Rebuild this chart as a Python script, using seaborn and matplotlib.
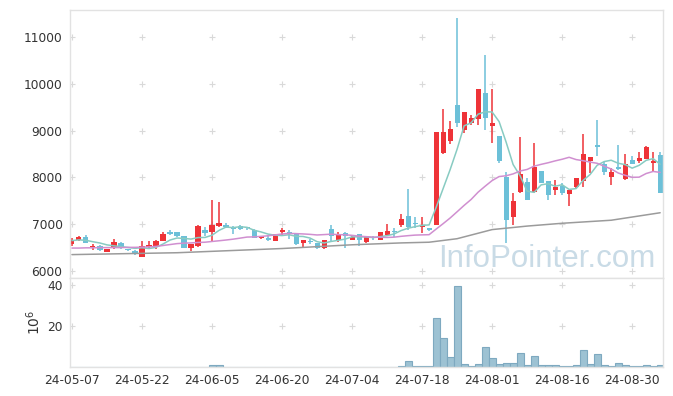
import matplotlib
matplotlib.use('Agg')
import matplotlib.pyplot as plt
import seaborn as sns
import pandas as pd
import numpy as np

# trading days (KRX holidays removed)
holidays = ['2024-05-15', '2024-06-06', '2024-08-15']
dates = pd.bdate_range('2024-05-07', '2024-09-05')
dates = dates[~dates.isin(pd.to_datetime(holidays))]

open_ = [6575, 6660, 6730, 6505, 6540, 6410, 6490, 6590, 6455, 6420,
         6305, 6520, 6505, 6645, 6825, 6825, 6740, 6495, 6540, 6870,
         6825, 6960, 6985, 6950, 6965, 6925, 6885, 6695, 6715, 6645,
         6830, 6815, 6805, 6600, 6645, 6595, 6485, 6905, 6670, 6810,
         6670, 6795, 6610, 6710, 6670, 6775, 6845, 6985, 7175, 7030,
         6935, 6895, 6980, 8530, 8785, 9550, 9015, 9160, 9260, 9805,
         9110, 8885, 8010, 7160, 7695, 7900, 7695, 8140, 7925, 7730,
         7815, 7645, 7785, 7930, 8350, 8695, 8285, 8015, 8215, 7965,
         8375, 8350, 8395, 8315, 8480]
high = [6700, 6745, 6775, 6575, 6550, 6475, 6675, 6610, 6475, 6440,
        6645, 6645, 6660, 6830, 6870, 6830, 6745, 6580, 6980, 6930,
        7510, 7480, 7035, 6970, 6990, 6950, 6890, 6755, 6760, 6790,
        6920, 6880, 6810, 6660, 6690, 6600, 6665, 6990, 6830, 6830,
        6740, 6800, 6745, 6740, 6840, 7010, 6910, 7215, 7745, 7160,
        7145, 6910, 8965, 9455, 9215, 11405, 9400, 9330, 9895, 10620,
        9885, 8890, 8125, 7675, 8870, 7980, 8730, 8145, 7930, 7945,
        7875, 7740, 7990, 8930, 8440, 9230, 8335, 8210, 8695, 8500,
        8460, 8550, 8680, 8535, 8535]
low = [6540, 6650, 6590, 6450, 6420, 6400, 6470, 6480, 6420, 6340,
       6300, 6500, 6480, 6640, 6770, 6730, 6490, 6430, 6520, 6750,
       6645, 6940, 6920, 6800, 6880, 6880, 6700, 6680, 6650, 6640,
       6760, 6680, 6560, 6490, 6580, 6480, 6480, 6630, 6610, 6490,
       6660, 6540, 6600, 6660, 6660, 6760, 6730, 6945, 6875, 6910,
       6820, 6860, 6980, 8500, 8715, 9085, 8960, 9120, 9120, 9015,
       8730, 8300, 6590, 6980, 7660, 7515, 7675, 7885, 7520, 7625,
       7625, 7390, 7770, 7790, 8085, 8460, 8050, 7840, 8160, 7945,
       8285, 8300, 8395, 8145, 7675]
close = [6660, 6730, 6605, 6540, 6455, 6460, 6630, 6520, 6445, 6365,
         6525, 6545, 6645, 6800, 6790, 6745, 6500, 6575, 6960, 6805,
         6980, 7020, 6930, 6900, 6900, 6915, 6715, 6745, 6670, 6780,
         6875, 6805, 6575, 6655, 6610, 6490, 6660, 6740, 6775, 6740,
         6735, 6655, 6740, 6700, 6835, 6845, 6835, 7105, 6950, 7005,
         6980, 6885, 8965, 8965, 9030, 9170, 9390, 9280, 9895, 9280,
         9155, 8360, 7090, 7495, 8075, 7515, 8230, 7890, 7625, 7800,
         7675, 7730, 7980, 8500, 8430, 8660, 8125, 8125, 8180, 8280,
         8285, 8425, 8660, 8360, 7675]
# volume, millions of shares
volume = [0.15, 0.15, 0.15, 0.15, 0.15, 0.15, 0.15, 0.15, 0.15, 0.15,
          0.15, 0.15, 0.15, 0.15, 0.15, 0.15, 0.15, 0.15, 0.15, 0.15,
          1.0, 1.0, 0.15, 0.15, 0.15, 0.15, 0.15, 0.15, 0.15, 0.15,
          0.15, 0.15, 0.15, 0.15, 0.15, 0.15, 0.15, 0.15, 0.15, 0.15,
          0.15, 0.15, 0.15, 0.15, 0.15, 0.15, 0.15, 0.6, 3.0, 0.6,
          0.6, 0.3, 23.9, 14.1, 4.9, 39.5, 1.6, 0.6, 1.6, 9.9,
          4.5, 1.6, 2.1, 2.1, 7.0, 1.1, 5.3, 1.0, 1.0, 1.0,
          0.5, 0.5, 1.0, 8.2, 1.5, 6.3, 1.0, 0.5, 2.0, 1.0,
          0.5, 0.5, 1.0, 0.5, 1.0]
ma5 = [6650, 6665, 6655, 6625, 6598, 6558, 6538, 6521, 6502, 6484,
       6497, 6480, 6505, 6576, 6661, 6705, 6696, 6682, 6714, 6717,
       6764, 6868, 6939, 6927, 6946, 6933, 6872, 6835, 6789, 6765,
       6757, 6775, 6741, 6738, 6704, 6627, 6598, 6631, 6655, 6681,
       6730, 6729, 6729, 6714, 6733, 6755, 6791, 6864, 6914, 6948,
       6975, 6985, 7357, 7760, 8165, 8603, 9104, 9167, 9353, 9403,
       9400, 9194, 8756, 8276, 8035, 7707, 7681, 7841, 7867, 7812,
       7844, 7744, 7762, 7937, 8063, 8260, 8339, 8368, 8304, 8274,
       8199, 8259, 8366, 8402, 8281]
ma20 = [6490, 6490, 6495, 6495, 6500, 6500, 6500, 6500, 6505, 6505,
        6510, 6515, 6525, 6545, 6565, 6585, 6595, 6600, 6610, 6615,
        6631, 6646, 6662, 6680, 6702, 6725, 6729, 6740, 6752, 6772,
        6790, 6803, 6799, 6792, 6783, 6770, 6778, 6787, 6777, 6774,
        6762, 6744, 6734, 6724, 6721, 6717, 6723, 6741, 6755, 6767,
        6772, 6776, 6895, 7011, 7132, 7266, 7402, 7529, 7685, 7812,
        7933, 8019, 8036, 8076, 8138, 8171, 8241, 8280, 8314, 8354,
        8389, 8431, 8382, 8358, 8328, 8303, 8240, 8182, 8096, 8046,
        8003, 8006, 8084, 8128, 8108]
# long moving average read at a few trading days
ma_long_pos = [0, 15, 30, 40, 47, 51, 55, 60, 65, 70, 77, 84]
ma_long = [6350, 6390, 6480, 6560, 6600, 6615, 6690, 6885, 6960, 7020, 7085, 7245]

price_ticks = [6000, 7000, 8000, 9000, 10000, 11000]
vol_ticks = [20, 40]

up_color = '#ee3338'
down_color = '#6cc0d8'
grid_color = '#d9d9d9'
spine_color = '#e2e2e2'

sns.set_theme(style='white')
plt.rcParams['font.family'] = ['DejaVu Sans']

df = pd.DataFrame({'pos': np.arange(len(dates)), 'open': open_, 'high': high,
                   'low': low, 'close': close, 'volume': volume,
                   'ma5': ma5, 'ma20': ma20})
df['up'] = df['close'] >= df['open']
df['color'] = np.where(df['up'], up_color, down_color)

fig = plt.figure(figsize=(6.73, 3.96), dpi=100)
ax = fig.add_axes([0.1033, 0.298, 0.8823, 0.6767])
ax2 = fig.add_axes([0.1033, 0.073, 0.8823, 0.225], sharex=ax)

# candles
ax.vlines(df['pos'], df['low'], df['high'], colors=df['color'], lw=1.1, zorder=2)
body = (df['close'] - df['open']).abs().clip(lower=30)
ax.bar(df['pos'], body, bottom=df[['open', 'close']].min(axis=1), width=0.72,
       color=df['color'], linewidth=0, zorder=2)

# moving averages
sns.lineplot(data=df, x='pos', y='ma5', ax=ax, color='#88cbc2', lw=1.1, zorder=3)
sns.lineplot(data=df, x='pos', y='ma20', ax=ax, color='#d08fd0', lw=1.1, zorder=3)
sns.lineplot(x=ma_long_pos, y=ma_long, ax=ax, color='#9b9b9b', lw=1.1, zorder=3)

ax.text(0.621, 0.041, 'InfoPointer.com', transform=ax.transAxes, fontsize=22.5,
        family='Liberation Sans', color='#c9dbe6', ha='left', va='baseline', zorder=1)

# volume
ax2.bar(df['pos'], df['volume'], width=1.0, color='#9dc2d3', edgecolor='#7ea9c0',
        linewidth=0.8, zorder=2)

# '+' grid marks
tick_pos = list(range(0, len(dates), 10))
gx, gy = np.meshgrid(tick_pos, price_ticks)
ax.plot(gx.ravel(), gy.ravel(), '+', color=grid_color, ms=5, mew=0.8, zorder=0)
gx, gy = np.meshgrid(tick_pos, vol_ticks)
ax2.plot(gx.ravel(), gy.ravel(), '+', color=grid_color, ms=5, mew=0.8, zorder=0)

ax.set_xlim(-0.35, len(dates) - 0.55)
ax.set_ylim(5850, 11580)
ax2.set_ylim(0, 43.5)

ax.set_yticks(price_ticks)
ax.set_yticklabels([str(v) for v in price_ticks])
ax2.set_yticks(vol_ticks)
ax2.set_xticks(tick_pos)
ax2.set_xticklabels(dates[tick_pos].strftime('%y-%m-%d'))
ax.tick_params(axis='x', labelbottom=False)

for a in (ax, ax2):
    a.set_xlabel('')
    a.set_ylabel('')
    a.tick_params(length=0, labelsize=8.8, labelcolor='#333333', pad=5)
    for s in a.spines.values():
        s.set_color(spine_color)
        s.set_linewidth(1)
ax2.set_ylabel(r'$10^6$', fontsize=10, color='#333333', labelpad=3)

fig.savefig('out.png', dpi=100, facecolor='white')
